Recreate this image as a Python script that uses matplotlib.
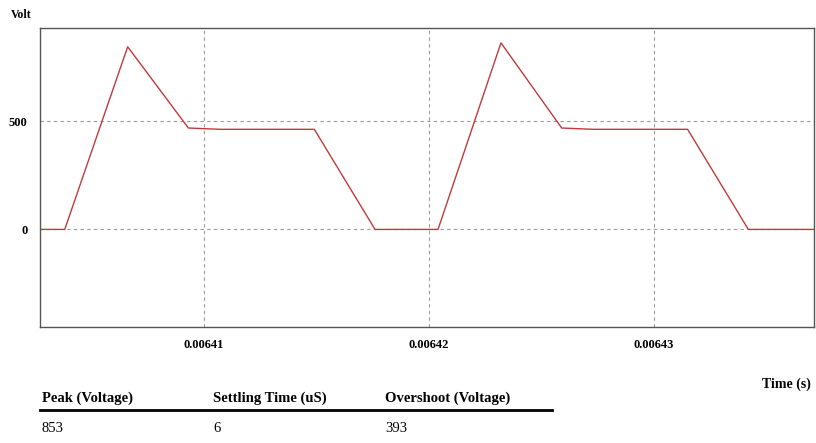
import numpy as np
import matplotlib.pyplot as plt

plt.rcParams['font.family'] = ['Liberation Serif', 'DejaVu Serif']

# waveform breakpoints (time in s, voltage in V)
t = [0.0064027, 0.0064038, 0.0064066, 0.0064093, 0.0064107, 0.0064149,
     0.0064176, 0.0064204, 0.0064232, 0.0064259, 0.0064273, 0.0064315,
     0.0064342, 0.0064371]
v = [0, 0, 843, 468, 462, 462,
     0, 0, 861, 468, 462, 462,
     0, 0]

xticks = [0.00641, 0.00642, 0.00643]
xtick_labels = ['0.00641', '0.00642', '0.00643']
yticks = [0, 500]

headers = ['Peak (Voltage)', 'Settling Time (uS)', 'Overshoot (Voltage)']
values = ['853', '6', '393']

fig = plt.figure(figsize=(8.16, 4.43), dpi=100)
ax = fig.add_axes([0.049, 0.262, 0.948, 0.675])

ax.plot(t, v, color='#c03a3c', lw=1)
ax.set_xlim(0.0064027, 0.0064371)
ax.set_ylim(-450, 930)
ax.set_xticks(xticks)
ax.set_xticklabels(xtick_labels)
ax.set_yticks(yticks)
ax.grid(True, color='#999999', ls=(0, (3, 3)), lw=0.8)
ax.tick_params(length=0, labelsize=9, pad=9)
for lab in ax.get_xticklabels() + ax.get_yticklabels():
    lab.set_fontweight('bold')
for s in ax.spines.values():
    s.set_color('#555555')
    s.set_linewidth(1)

fig.text(11 / 816, 1 - 15 / 443, 'Volt', fontsize=8.5, fontweight='bold', va='center')
fig.text(811 / 816, 1 - 384 / 443, 'Time (s)', fontsize=10, fontweight='bold',
         ha='right', va='center')

# table below the chart
col_x = [42, 213, 385]
for x, h, val in zip(col_x, headers, values):
    fig.text(x / 816, 1 - 398 / 443, h, fontsize=10.5, fontweight='bold', va='center')
    fig.text(x / 816, 1 - 428 / 443, val, fontsize=10.5, va='center')
fig.add_artist(plt.Line2D([40 / 816, 552 / 816], [1 - 410 / 443] * 2,
                          color='black', lw=2))

fig.savefig('out.png', dpi=100)
